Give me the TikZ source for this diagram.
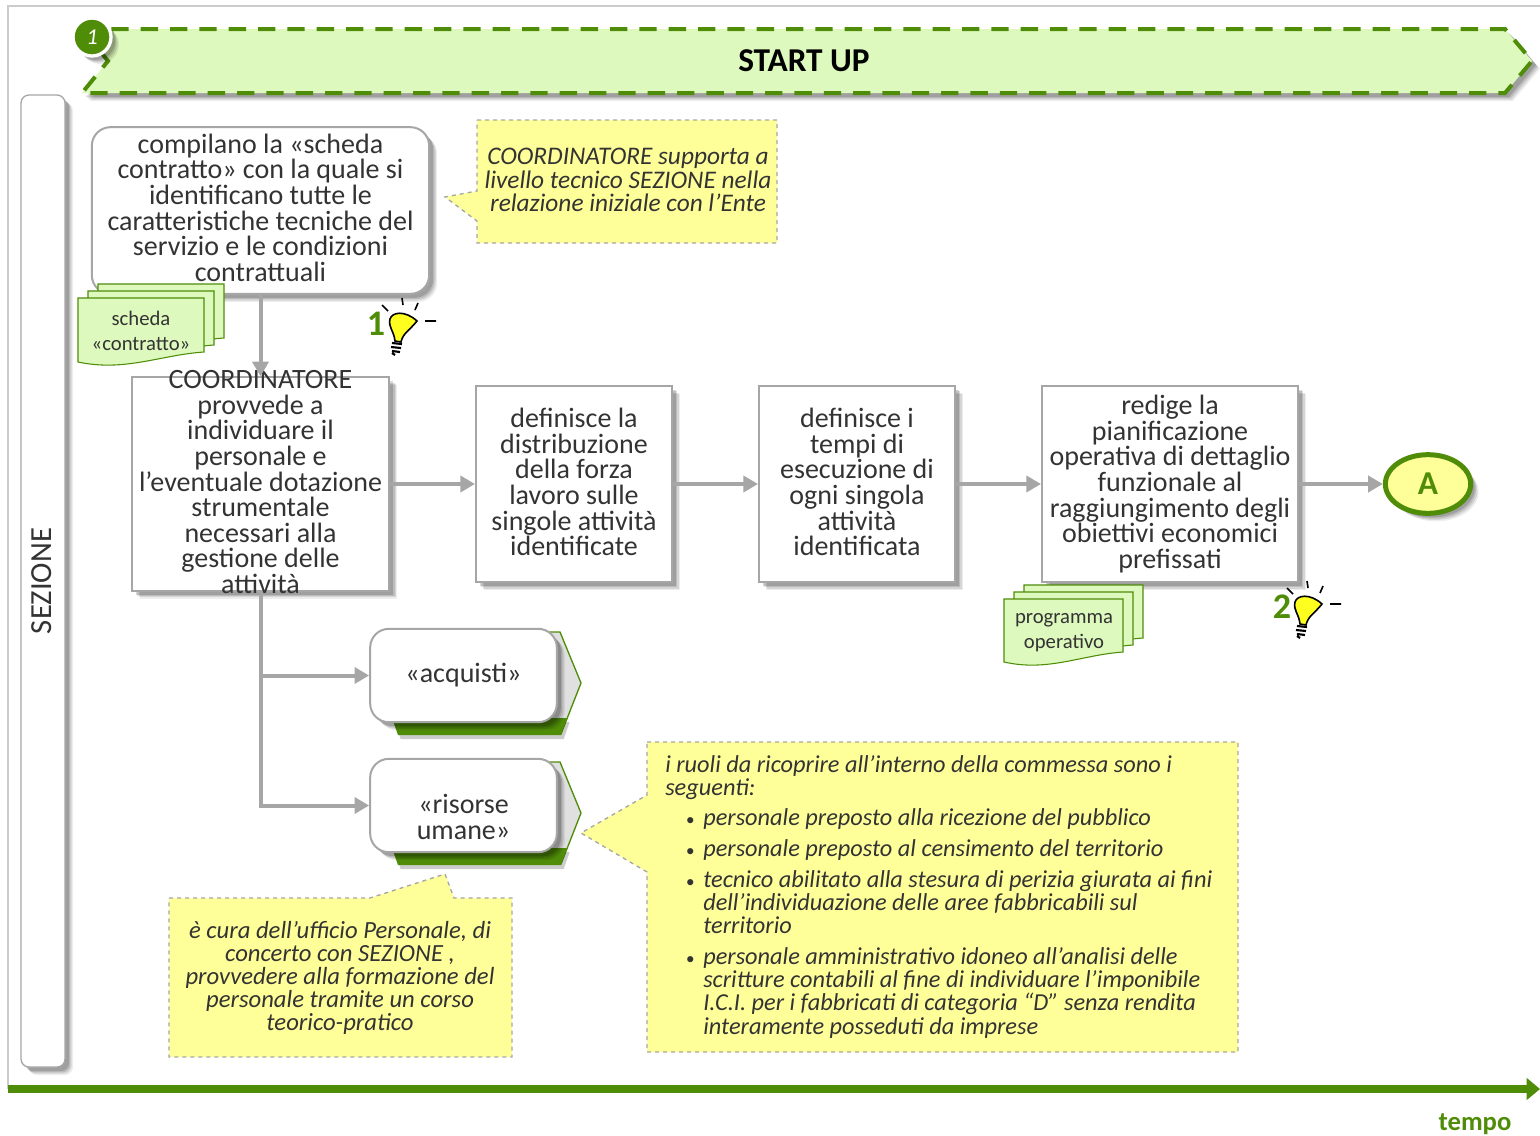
\documentclass[tikz,border=0pt]{standalone}
\usepackage{fontspec}
\setmainfont{Carlito}
\usepackage{tikz}
\usetikzlibrary{calc}
\usetikzlibrary{shadows}
\usetikzlibrary{shapes.geometric}
\usetikzlibrary{arrows.meta}
\definecolor{darkgreen}{HTML}{4F8C08}
\definecolor{palegreen}{HTML}{DDF9BD}
\definecolor{noteyellow}{HTML}{FFFF99}
\definecolor{linegray}{HTML}{A6A6A6}
\definecolor{textgray}{HTML}{333333}
\newcommand{\notebullet}{\hspace*{15.5pt}\makebox[13pt][l]{\fontsize{13}{13}\selectfont\textbullet}}
\newcommand{\noteindent}{\hspace*{28.5pt}}
\tikzset{
  softshadow/.style={
    drop shadow={shadow xshift=6pt,shadow yshift=-6pt,fill=black,opacity=.07},
    drop shadow={shadow xshift=5pt,shadow yshift=-5pt,fill=black,opacity=.1},
    drop shadow={shadow xshift=4pt,shadow yshift=-4pt,fill=black,opacity=.12},
    drop shadow={shadow xshift=3pt,shadow yshift=-3pt,fill=black,opacity=.15}},
  bodytext/.style={text=textgray,align=center,inner sep=0pt,font=\fontsize{21}{19.2}\selectfont},
  notetext/.style={text=textgray,inner sep=0pt,font=\fontsize{18.5}{17.4}\selectfont\itshape},
  doctext/.style={text=textgray,align=center,inner sep=0pt,font=\fontsize{15.5}{18.7}\selectfont},
  procbox/.style={bodytext,draw=linegray,fill=white,line width=1.5pt,softshadow},
  roundbox/.style={procbox,rounded corners=14pt},
  notepath/.style={draw=linegray,fill=noteyellow,dashed,line width=1pt},
  flow/.style={draw=linegray,line width=3pt,-{Triangle[length=11pt,width=12pt]}},
  docsheet/.style={draw=darkgreen,fill=palegreen,line width=.8pt},
  bulb/.pic={
    \fill[noteyellow!20!yellow,draw=black,line width=1.2pt] (-8,16) .. controls (-9,6) and (-15,2) .. (-13,-6)
      .. controls (-11,-13) and (2,-15) .. (14,-4) .. controls (6,6) and (0,8) .. (-2,17) -- cycle;
    \draw[line width=1.6pt] (-11,18) -- (-1,19) (-12,22) -- (-2,23) (-11,26) -- (-3,27) (-8,30) -- (-11,28);
    \draw[line width=1.2pt] (-21,-20) -- (-15,-14) (-1,-27) -- (0,-20) (15,-22) -- (12,-15) (22,-4) -- (33,-4);
  }
}
\begin{document}
\begin{tikzpicture}[x=0.75pt,y=-0.75pt]
  \useasboundingbox (0,0) rectangle (1540,1135);
  % frame
  \draw[line width=1.5pt,color=black!20] (1540,6) -- (8,6) -- (8,1089);
  % banner
  \draw[fill=palegreen,draw=darkgreen,line width=3pt,dash pattern=on 13pt off 9pt,softshadow]
    (82,29) -- (1505,29) -- (1532,61) -- (1505,93) -- (82,93) -- (108,61) -- cycle;
  \node[font=\fontsize{25}{25}\selectfont\bfseries] (title) at (804,61) {START UP};
  \node[circle,fill=darkgreen,draw=white,line width=2.5pt,inner sep=0pt,
    minimum size=28.5pt,text=white,font=\fontsize{17}{17}\selectfont\itshape,softshadow] (phase) at (92,37) {1};
  % side column
  \node[draw=linegray,fill=white,line width=1pt,rounded corners=6pt,minimum width=33pt,minimum height=729pt,
    inner sep=0pt,softshadow] (side) at (43,581) {};
  \node[rotate=90,text=textgray,inner sep=0pt,font=\fontsize{23}{23}\selectfont] (sidelabel) at (42,581) {SEZIONE};
  % boxes
  \node[roundbox,minimum width=253pt,minimum height=125pt] (compila) at (260.5,210.5) {compilano la «scheda\\contratto» con la quale si\\identificano tutte le\\caratteristiche tecniche del\\servizio e le condizioni\\contrattuali\rule[-4.5pt]{0pt}{0pt}};
  \node[procbox,minimum width=193pt,minimum height=160pt] (coord) at (260.5,484)
    {\smash{\raisebox{-3.75pt}{\parbox[c]{190pt}{\centering COORDINATORE\\provvede a\\individuare il\\personale e\\l’eventuale dotazione\\strumentale\\necessari alla\\gestione delle\\attività}}}};
  \node[procbox,minimum width=147pt,minimum height=147pt] (distrib) at (574,484) {definisce la\\distribuzione\\della forza\\lavoro sulle\\singole attività\\identificate\rule[-3pt]{0pt}{0pt}};
  \node[procbox,minimum width=147pt,minimum height=147pt] (tempi) at (857,484) {definisce i\\tempi di\\esecuzione di\\ogni singola\\attività\\identificata\rule[-3pt]{0pt}{0pt}};
  \node[procbox,minimum width=192pt,minimum height=147pt] (redige) at (1170,484) {redige la\\pianificazione\\operativa di dettaglio\\funzionale al\\raggiungimento degli\\obiettivi economici\\prefissati};
  \node[ellipse,draw=darkgreen,fill=noteyellow,line width=3.75pt,minimum width=64pt,minimum height=44pt,inner sep=0pt,
    text=darkgreen,font=\fontsize{25}{25}\selectfont\bfseries,softshadow] (endA) at (1428,484) {A};
  % tabs behind the two roles
  \foreach \y in {0,130} {
    \draw[draw=darkgreen,fill=black!12,line width=1pt,yshift=-0.75pt*\y] (540,632) -- (560,632) -- (581,683) -- (561,734) -- (540,734) -- cycle;
    \fill[darkgreen,yshift=-0.75pt*\y,drop shadow={shadow xshift=2pt,shadow yshift=-3pt,fill=black,opacity=.2}] (392,718) -- (567,718) -- (561,735) -- (398,735) -- cycle;
  }
  \node[roundbox,minimum width=140pt,minimum height=70pt] (acquisti) at (463.5,675.5) {«acquisti»};
  \node[roundbox,minimum width=140pt,minimum height=70pt] (risorse) at (463.5,805.5)
    {\smash{\raisebox{-13.9pt}{\parbox[c]{130pt}{\centering «risorse\\umane»}}}};
  % connectors
  \draw[flow] (compila) -- (coord);
  \draw[flow] (coord) -- (distrib);
  \draw[flow] (distrib) -- (tempi);
  \draw[flow] (tempi) -- (redige);
  \draw[flow] (redige) -- (endA);
  \draw[flow] (coord.south) |- (acquisti);
  \draw[flow] (coord.south) |- (risorse);
  % document stacks
  \foreach \d in {20,10,0} {
    \draw[docsheet] ($(78,298)+(\d,-0.7*\d)$) -- ++(126,0) -- ++(0,54) .. controls +(-44,3) and +(47,10) .. ++(-126,10) -- cycle;
    \draw[docsheet] ($(1004,599)+(\d,-0.7*\d)$) -- ++(119,0) -- ++(0,53) .. controls +(-42,3) and +(44,10) .. ++(-119,10) -- cycle;
  }
  \node[doctext] (scheda) at (141,331) {scheda\\«contratto»};
  \node[doctext] (programma) at (1064,633) {programma\\operativo};
  % notes
  \draw[notepath] (477,120) -- (777,120) -- (777,243) -- (477,243) -- (477,221) -- (445,197) -- (477,191) -- cycle;
  \node[notetext,align=center,font=\fontsize{19}{17.4}\selectfont\itshape] (note1) at (628,180) {COORDINATORE supporta a\\livello tecnico SEZIONE nella\\relazione iniziale con l’Ente};
  \draw[notepath] (169,898) -- (370,898) -- (445,874) -- (454,898) -- (512,898) -- (512,1057) -- (169,1057) -- cycle;
  \node[notetext,align=center] (note2) at (340,978) {è cura dell’ufficio Personale, di\\concerto con SEZIONE ,\\provvedere alla formazione del\\personale tramite un corso\\teorico-pratico};
  \draw[notepath] (647,742) -- (1238,742) -- (1238,1052) -- (647,1052) -- (647,872) -- (581,833) -- (647,795) -- cycle;
  \node[notetext,align=left,anchor=north west,font=\fontsize{18.25}{17.4}\selectfont\itshape] (note3) at (665,755) {i ruoli da ricoprire all’interno della commessa sono i\\seguenti:\\[5pt]
    \notebullet personale preposto alla ricezione del pubblico\\[5.8pt]
    \notebullet personale preposto al censimento del territorio\\[5.8pt]
    \notebullet tecnico abilitato alla stesura di perizia giurata ai fini\\
    \noteindent dell’individuazione delle aree fabbricabili sul\\
    \noteindent territorio\\[5.8pt]
    \notebullet personale amministrativo idoneo all’analisi delle\\
    \noteindent scritture contabili al fine di individuare l’imponibile\\
    \noteindent I.C.I. per i fabbricati di categoria “D” senza rendita\\
    \noteindent interamente posseduti da imprese};
  % bulbs
  \pic at (403,325) {bulb};
  \pic at (1308,608) {bulb};
  \node[text=darkgreen,inner sep=0pt,font=\fontsize{27}{27}\selectfont\bfseries] (tip1) at (376,324) {1};
  \node[text=darkgreen,inner sep=0pt,font=\fontsize{27}{27}\selectfont\bfseries] (tip2) at (1282,607) {2};
  % time axis
  \coordinate (axisstart) at (8,1089);
  \coordinate (axisend) at (1540,1089);
  \draw[draw=darkgreen,line width=6pt,-{Triangle[length=10pt,width=16pt]}] (axisstart) -- (axisend);
  \node[text=darkgreen,inner sep=0pt,font=\fontsize{20}{20}\selectfont\bfseries] (tempo) at (1475,1124) {tempo};
\end{tikzpicture}
\end{document}
